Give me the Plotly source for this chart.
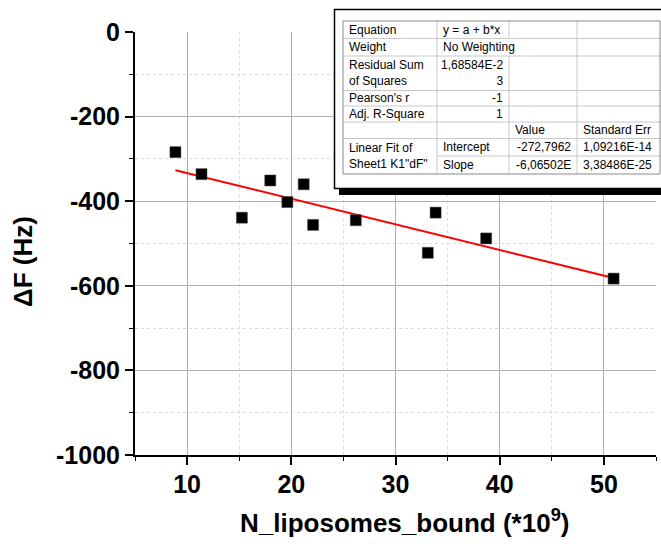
import plotly.graph_objects as go

# ---- data ----
x_vals = [8.88, 11.38, 15.26, 17.98, 19.62, 21.19, 22.09, 26.19, 33.1, 33.85, 38.7, 50.93]
y_vals = [-284, -336, -439, -351, -402, -360, -456, -445, -522, -427, -488, -583]
fit_intercept = -272.7962
fit_slope = -6.06502

x_ticks = [10, 20, 30, 40, 50]
y_ticks = [0, -200, -400, -600, -800, -1000]

table_rows = [
    ["Equation", "y = a + b*x", "", ""],
    ["Weight", "No Weighting", "", ""],
    ["Residual Sum<br>of Squares", "1,68584E-2<br>3", "", ""],
    ["Pearson's r", "-1", "", ""],
    ["Adj. R-Square", "1", "", ""],
    ["", "", "Value", "Standard Err"],
    ["Linear Fit of<br>Sheet1 K1\"dF\"", "Intercept", "-272,7962", "1,09216E-14"],
    ["", "Slope", "-6,06502E", "3,38486E-25"],
]

# ---- layout geometry (pixels) ----
W_FIG, H_FIG = 661, 546
L, R, T, B = 135, 5, 32, 91
PW, PH = W_FIG - L - R, H_FIG - T - B

def px(x):
    return (x - L) / PW

def py(y):
    return 1 - (y - T) / PH

FONT = "Arial, Liberation Sans, sans-serif"

fig = go.Figure()

x_fit = [min(x_vals), max(x_vals)]
y_fit = [fit_intercept + fit_slope * v for v in x_fit]
fig.add_trace(go.Scatter(x=x_fit, y=y_fit, mode="lines",
                         line=dict(color="#ff0000", width=2), showlegend=False))
fig.add_trace(go.Scatter(x=x_vals, y=y_vals, mode="markers",
                         marker=dict(symbol="square", size=11, color="black",
                                     line=dict(color="#444", width=0.5)),
                         showlegend=False))

tickfont = dict(family=FONT, size=25, color="black", weight=700)

fig.update_xaxes(
    range=[5, 55], tickvals=x_ticks, ticktext=[str(v) for v in x_ticks],
    showline=True, linecolor="black", linewidth=2,
    ticks="outside", ticklen=8, tickwidth=1.5, tickcolor="black",
    showgrid=True, gridcolor="#b0b0b0", gridwidth=1.2, zeroline=False,
    tickfont=tickfont, ticklabelstandoff=-2,
    minor=dict(dtick=5, tick0=5, ticks="outside", ticklen=4, tickwidth=1.2, tickcolor="black",
               showgrid=True, gridcolor="#dadada", griddash="3px,3px", gridwidth=1),
)
fig.update_yaxes(
    range=[-1000, 0], tickvals=y_ticks, ticktext=[str(v) for v in y_ticks],
    showline=True, linecolor="black", linewidth=2,
    ticks="outside", ticklen=8, tickwidth=1.5, tickcolor="black",
    showgrid=True, gridcolor="#b0b0b0", gridwidth=1.2, zeroline=False,
    tickfont=tickfont, ticklabelstandoff=0,
    minor=dict(dtick=100, tick0=0, ticks="outside", ticklen=4, tickwidth=1.2, tickcolor="black",
               showgrid=True, gridcolor="#dadada", griddash="3px,3px", gridwidth=1),
)

shapes = []
annotations = []

# axis titles
annotations.append(dict(text="ΔF (Hz)", x=px(23), y=py(262), xref="paper", yref="paper",
                        textangle=-90, showarrow=False, xanchor="center", yanchor="middle",
                        font=dict(family=FONT, size=26, color="black", weight=700)))
annotations.append(dict(text="N_liposomes_bound (*10<sup>9</sup>)", x=px(404), y=py(521),
                        xref="paper", yref="paper", showarrow=False,
                        xanchor="center", yanchor="middle",
                        font=dict(family=FONT, size=26, color="black", weight=700)))

# table frame with shadow
shapes.append(dict(type="rect", xref="paper", yref="paper", layer="above",
                   x0=px(339), x1=px(700), y0=py(195), y1=py(15),
                   fillcolor="black", line=dict(width=0)))
shapes.append(dict(type="rect", xref="paper", yref="paper", layer="above",
                   x0=px(334.5), x1=px(680), y0=py(188.5), y1=py(9.5),
                   fillcolor="white", line=dict(color="black", width=1.5)))

cols = [343, 437, 509, 577, 660]
rows = [21, 38.5, 56, 90.5, 106, 122, 138.5, 156, 174]
gcol = "#c8c8c8"

def hline(y, xa, xb, color=gcol):
    shapes.append(dict(type="line", xref="paper", yref="paper", layer="above",
                       x0=px(xa), x1=px(xb), y0=py(y), y1=py(y),
                       line=dict(color=color, width=1)))

def vline(x, ya, yb, color=gcol):
    shapes.append(dict(type="line", xref="paper", yref="paper", layer="above",
                       x0=px(x), x1=px(x), y0=py(ya), y1=py(yb),
                       line=dict(color=color, width=1)))

for i in range(1, 8):
    if i == 7:
        hline(rows[i], cols[1], cols[4])
    else:
        hline(rows[i], cols[0], cols[4])
vline(cols[1], rows[0], rows[8])
# column 2/3 separator, skipped in the "Weight" row
vline(cols[2], rows[0], rows[1])
vline(cols[2], rows[2], rows[8])
vline(cols[3], rows[0], rows[8])
# outer border
ob = "#8a8a8a"
hline(rows[0], cols[0], cols[4], ob)
hline(rows[8], cols[0], cols[4], ob)
vline(cols[0], rows[0], rows[8], ob)
vline(cols[4], rows[0], rows[8], ob)

tfont = dict(family=FONT, size=12, color="black")

def cell_text(text, r0, r1, c, align):
    if not text:
        return
    yc = (rows[r0] + rows[r1]) / 2
    if align == "left":
        x, xa = cols[c] + 4, "left"
    else:
        x, xa = cols[c + 1] - 4, "right"
    annotations.append(dict(text=text, x=px(x), y=py(yc), xref="paper", yref="paper",
                            showarrow=False, xanchor=xa, yanchor="middle", align=align,
                            font=tfont))

for ri, row in enumerate(table_rows):
    for ci, txt in enumerate(row):
        r0, r1 = ri, ri + 1
        if ri == 6 and ci == 0:
            r1 = 8
        align = "left"
        if ci == 1 and ri in (2, 3, 4):
            align = "right"
        if ci == 2 and ri in (6, 7):
            align = "right"
        cell_text(txt, r0, r1, ci, align)

fig.update_layout(
    width=W_FIG, height=H_FIG,
    margin=dict(l=L, r=R, t=T, b=B),
    paper_bgcolor="white", plot_bgcolor="white",
    shapes=shapes, annotations=annotations,
    showlegend=False,
)

fig.write_html("out.html")
